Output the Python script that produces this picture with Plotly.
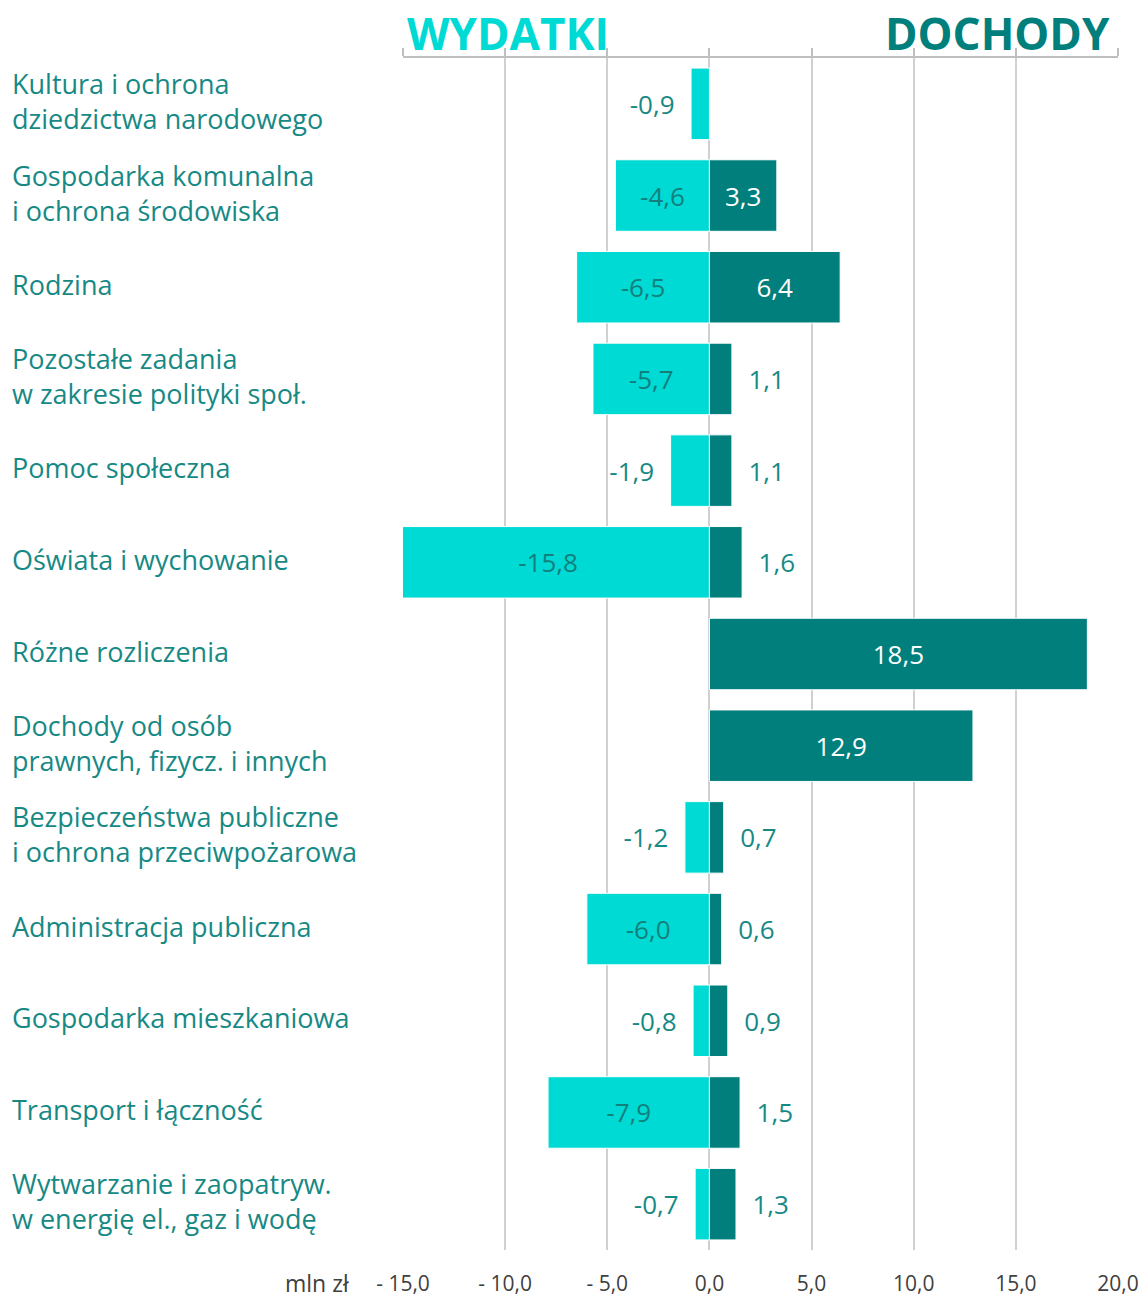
import plotly.graph_objects as go

categories = [
    "Kultura i ochrona\ndziedzictwa narodowego",
    "Gospodarka komunalna\ni ochrona środowiska",
    "Rodzina",
    "Pozostałe zadania\nw zakresie polityki społ.",
    "Pomoc społeczna",
    "Oświata i wychowanie",
    "Różne rozliczenia",
    "Dochody od osób\nprawnych, fizycz. i innych",
    "Bezpieczeństwa publiczne\ni ochrona przeciwpożarowa",
    "Administracja publiczna",
    "Gospodarka mieszkaniowa",
    "Transport i łączność",
    "Wytwarzanie i zaopatryw.\nw energię el., gaz i wodę",
]
wydatki = [-0.9, -4.6, -6.5, -5.7, -1.9, -15.8, None, None, -1.2, -6.0, -0.8, -7.9, -0.7]
dochody = [None, 3.3, 6.4, 1.1, 1.1, 1.6, 18.5, 12.9, 0.7, 0.6, 0.9, 1.5, 1.3]
tick_vals = [-15, -10, -5, 0, 5, 10, 15, 20]
tick_text = ["- 15,0", "- 10,0", "- 5,0", "0,0", "5,0", "10,0", "15,0", "20,0"]

CYAN = "#00DAD4"
TEAL = "#007F7C"
LABEL = "#178985"
FONT = "Open Sans"
NB = "\u00a0"

def fmt(v):
    return f"{v:.1f}".replace(".", ",")

def texts(vals, pad_right):
    out = []
    for v in vals:
        if v is None:
            out.append("")
        elif abs(v) >= 3:
            out.append(fmt(v))
        else:
            out.append(fmt(v) + NB * 2 if pad_right else NB * 2 + fmt(v))
    return out

def positions(vals):
    return ["inside" if (v is not None and abs(v) >= 3) else "outside" for v in vals]

fig = go.Figure()
fig.add_trace(go.Bar(
    y=categories, x=wydatki, orientation="h", name="WYDATKI",
    marker=dict(color=CYAN, line=dict(color="white", width=1)),
    text=texts(wydatki, True), textposition=positions(wydatki),
    insidetextanchor="middle", textangle=0, constraintext="none",
    insidetextfont=dict(family=FONT, size=26, color="#11807C"),
    outsidetextfont=dict(family=FONT, size=26, color=LABEL),
    width=0.78, cliponaxis=True, hoverinfo="skip",
))
fig.add_trace(go.Bar(
    y=categories, x=dochody, orientation="h", name="DOCHODY",
    marker=dict(color=TEAL, line=dict(color="white", width=1)),
    text=texts(dochody, False), textposition=positions(dochody),
    insidetextanchor="middle", textangle=0, constraintext="none",
    insidetextfont=dict(family=FONT, size=26, color="white"),
    outsidetextfont=dict(family=FONT, size=26, color=LABEL),
    width=0.78, cliponaxis=True, hoverinfo="skip",
))
# invisible trace carrying the top axis line
fig.add_trace(go.Scatter(x=[0], y=[categories[0]], xaxis="x2", mode="markers",
                         marker=dict(opacity=0), showlegend=False, hoverinfo="skip"))

annotations = []
for cat in categories:
    annotations.append(dict(
        x=-393 / 715, xref="paper", y=cat, yref="y", yshift=3,
        text=cat.replace("\n", "<br>"), showarrow=False, xanchor="left",
        yanchor="middle", align="left",
        font=dict(family=FONT, size=27, color=LABEL),
    ))
annotations.append(dict(x=(405 - 403) / 715, xref="paper", y=1, yref="paper", yshift=25,
                        text="<b>WYDATKI</b>", showarrow=False, xanchor="left",
                        yanchor="middle", font=dict(family=FONT, size=44, color=CYAN)))
annotations.append(dict(x=(1112 - 403) / 715, xref="paper", y=1, yref="paper", yshift=25,
                        text="<b>DOCHODY</b>", showarrow=False, xanchor="right",
                        yanchor="middle", font=dict(family=FONT, size=44, color=TEAL)))
annotations.append(dict(x=(352 - 403) / 715, xref="paper", y=0, yref="paper", yshift=-33,
                        text="mln zł", showarrow=False, xanchor="right", yanchor="middle",
                        font=dict(family=FONT, size=23, color="#404040")))

n = len(categories)
fig.update_layout(
    width=1148, height=1299,
    margin=dict(l=403, r=30, t=58, b=49, autoexpand=False),
    paper_bgcolor="white", plot_bgcolor="white",
    barmode="relative", showlegend=False,
    annotations=annotations,
    xaxis=dict(range=[-15, 20], tickvals=tick_vals, ticktext=tick_text, automargin=False,
               showgrid=True, gridcolor="#D0D0D0", gridwidth=1.5, zeroline=False,
               showline=False, ticks="", ticklabelstandoff=19,
               tickfont=dict(family=FONT, size=21, color="#404040")),
    xaxis2=dict(overlaying="x", side="top", matches="x", range=[-15, 20], automargin=False,
                tickvals=tick_vals, showticklabels=False, showgrid=False,
                zeroline=False, showline=True, linecolor="#BFBFBF", linewidth=1.5,
                ticks="outside", ticklen=8, tickcolor="#BFBFBF", tickwidth=1.5),
    yaxis=dict(type="category", range=[n - 0.5, -0.5], showticklabels=False,
               automargin=False, showgrid=False, zeroline=False, showline=False, ticks=""),
)

fig.write_html(
    "out.html",
    config={"displayModeBar": False},
    post_script=(
        "document.body.style.margin='0';"
        "document.body.style.overflow='hidden';"
        "document.documentElement.style.overflow='hidden';"
    ),
)
